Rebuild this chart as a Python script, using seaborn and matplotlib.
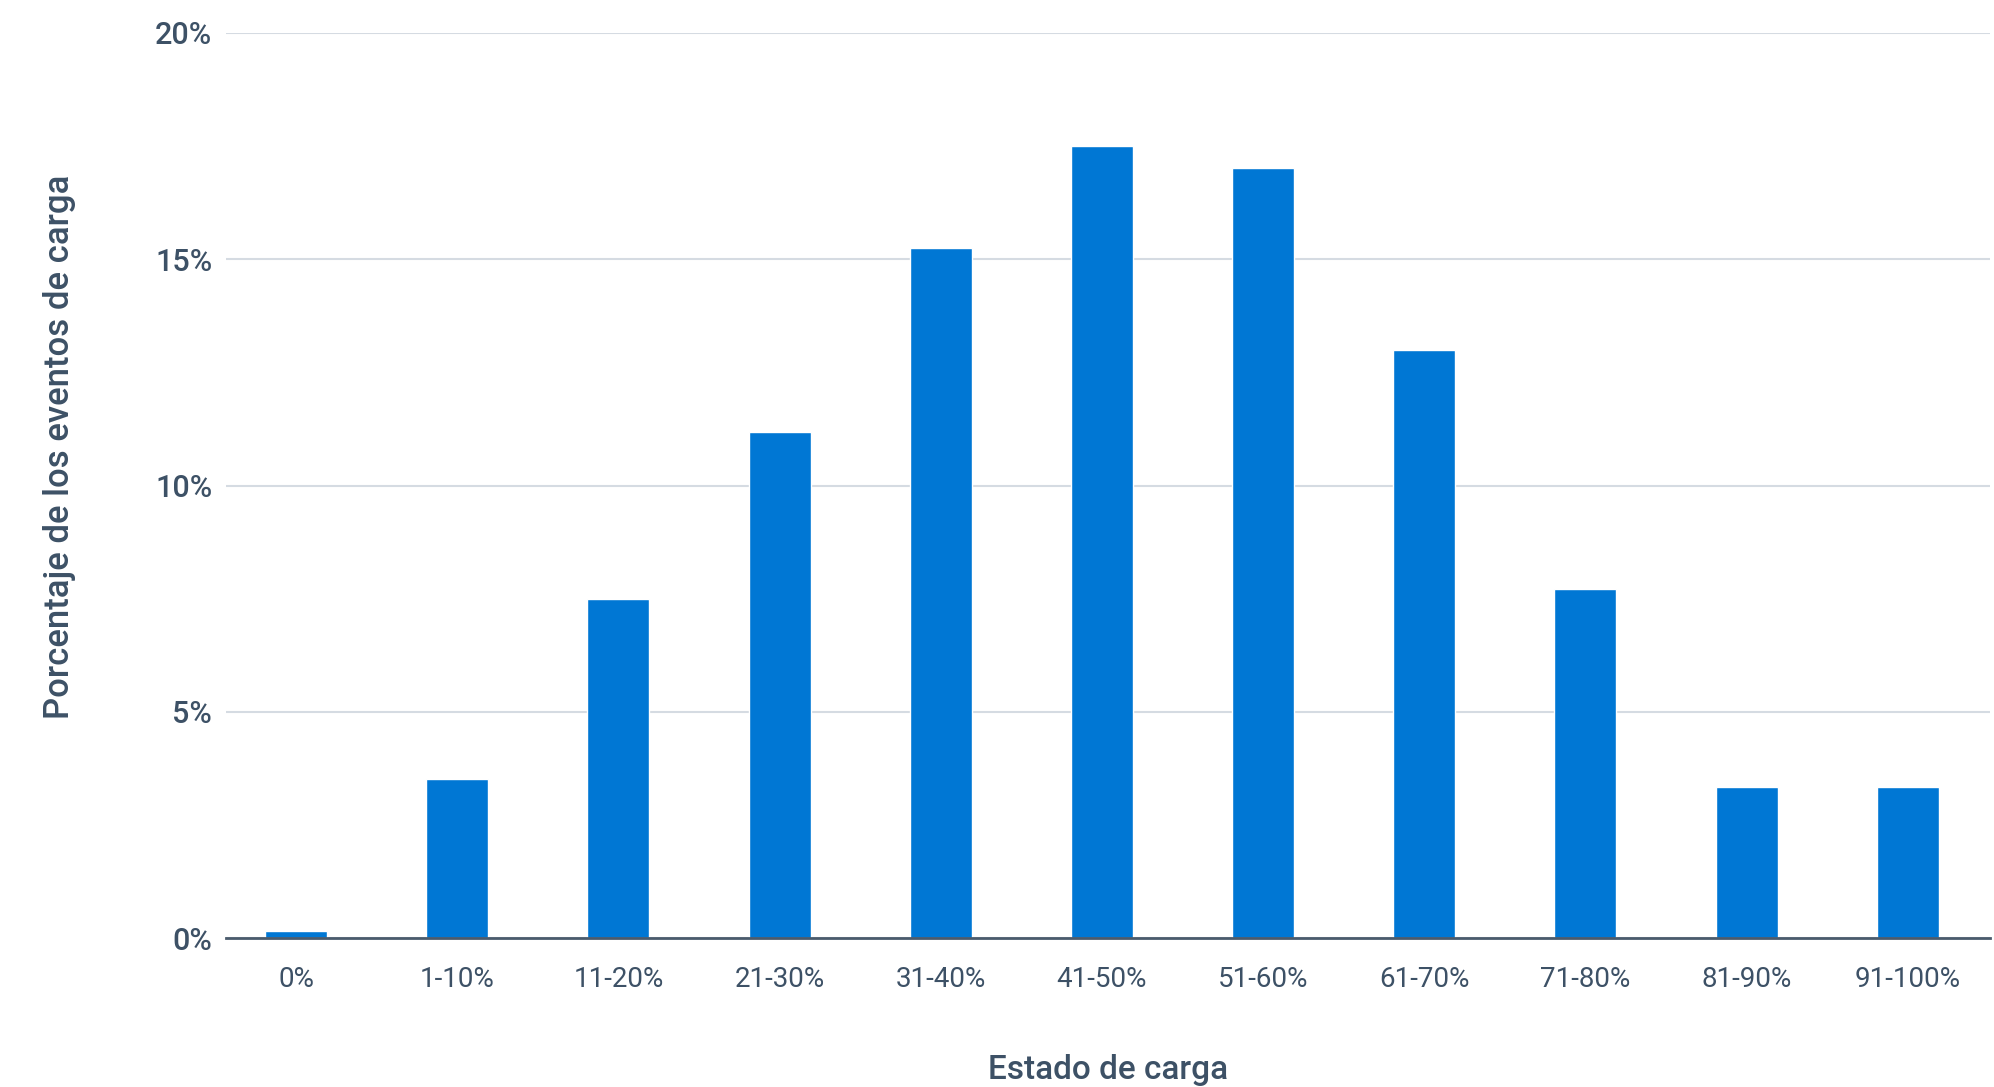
import matplotlib
matplotlib.use("Agg")
import matplotlib.pyplot as plt
import seaborn as sns
import pandas as pd
from matplotlib.ticker import FuncFormatter

# Data
categories = ['0%', '1-10%', '11-20%', '21-30%', '31-40%', '41-50%',
              '51-60%', '61-70%', '71-80%', '81-90%', '91-100%']
percentages = [0.15, 3.51, 7.5, 11.18, 15.25, 17.5, 17.02, 13.0, 7.72, 3.34, 3.34]
y_ticks = [0, 5, 10, 15, 20]

df = pd.DataFrame({'estado': categories, 'pct': percentages})

sns.set_theme(style='white')
plt.rcParams['font.family'] = ['Roboto', 'DejaVu Sans']

text_color = '#3d5166'
bar_color = '#0077d4'

fig = plt.figure(figsize=(19.94, 10.87), dpi=100)
ax = fig.add_axes([226 / 1994, 1 - 938 / 1087, (1990 - 226) / 1994, (938 - 33) / 1087])

sns.barplot(data=df, x='estado', y='pct', color=bar_color, width=0.385,
            saturation=1, ax=ax, zorder=3)

ax.set_ylim(0, 20)
ax.set_xlim(-0.435, 10.51)
ax.set_yticks(y_ticks)
ax.yaxis.set_major_formatter(FuncFormatter(lambda v, p: f'{v:.0f}%'))
ax.grid(axis='y', color='#d5dbe2', linewidth=1.5, zorder=0)
ax.grid(axis='x', visible=False)

for s in ['top', 'right', 'left']:
    ax.spines[s].set_visible(False)
ax.spines['bottom'].set_color('#4a5b6c')
ax.spines['bottom'].set_linewidth(2)
ax.spines['bottom'].set_zorder(4)

ax.tick_params(axis='both', length=0, colors=text_color)
ax.tick_params(axis='y', pad=10, labelsize=22)
ax.tick_params(axis='x', pad=20, labelsize=20)
for lbl in ax.get_yticklabels():
    lbl.set_fontweight('medium')

ax.set_xlabel('Estado de carga', fontsize=24, color=text_color, labelpad=44,
              fontweight='medium')
ax.set_ylabel('Porcentaje de los eventos de carga', fontsize=25, color=text_color,
              fontweight='medium')
ax.yaxis.set_label_coords(-0.085, 0.543)

fig.savefig('out.png', dpi=100)
